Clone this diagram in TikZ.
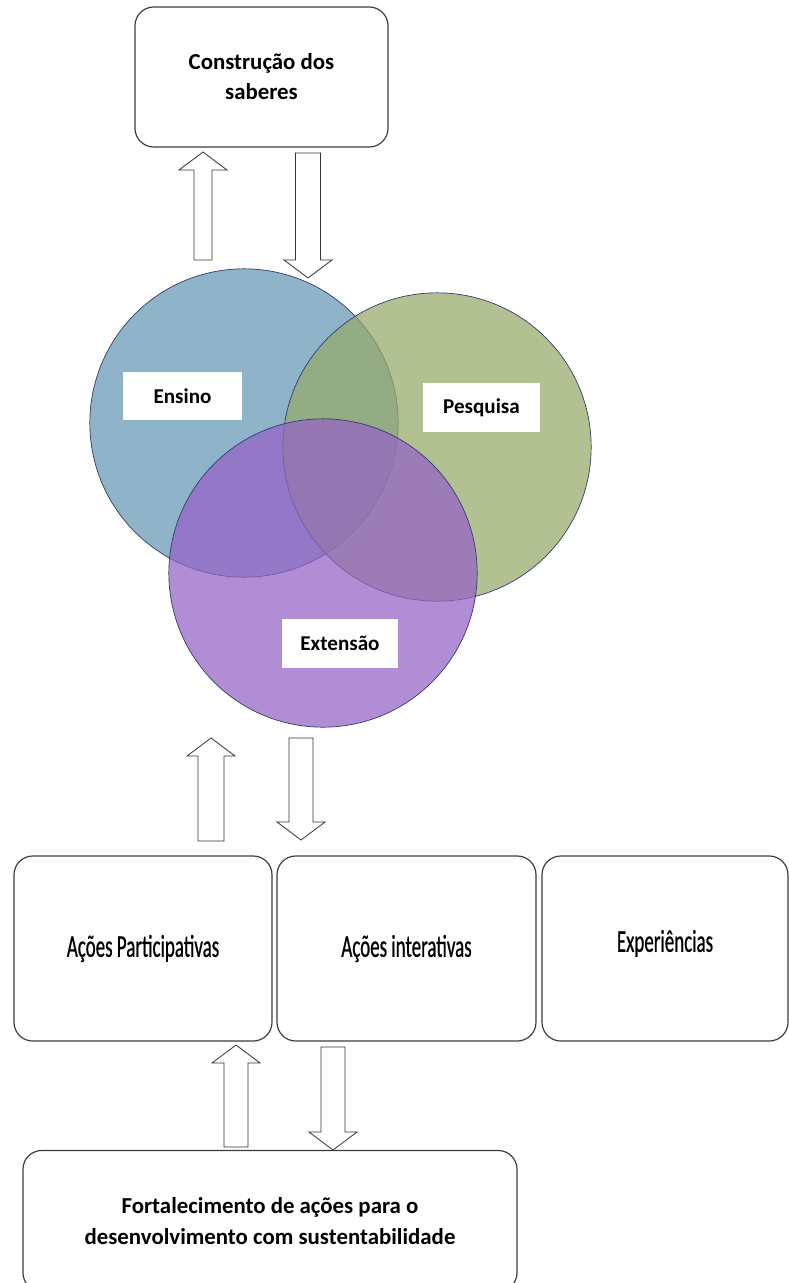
\documentclass[tikz,border=0pt]{standalone}
\usepackage{fontspec}
\setmainfont{Carlito}
\newfontfamily\narrowfont{Carlito}[FakeStretch=0.6, FakeBold=0.6]
\usetikzlibrary{positioning, calc}
\definecolor{ensinoblue}{RGB}{100,150,180}
\definecolor{pesqgreen}{RGB}{150,170,105}
\definecolor{extpurple}{RGB}{148,98,198}
\definecolor{ringline}{RGB}{50,60,110}
\definecolor{boxline}{RGB}{60,60,60}

% block arrow: x, tail y, tip y, shaft half width
\newcommand{\blockarrow}[4]{%
  \pgfmathsetmacro{\headbase}{#3 + ((#2 > #3) ? 18 : -18)}
  \draw[barrow] (#1-#4,#2) -- (#1-#4,\headbase) -- (#1-24,\headbase) -- (#1,#3)
    -- (#1+24,\headbase) -- (#1+#4,\headbase) -- (#1+#4,#2) -- cycle;}

\begin{document}
\begin{tikzpicture}[x=0.03cm, y=-0.03cm,
  sbox/.style={draw=boxline, line width=1pt, rounded corners=16pt, fill=white, align=center, inner sep=0pt},
  ring/.style={circle, draw=ringline, line width=0.6pt, minimum size=9.25cm, inner sep=0pt, fill opacity=0.72},
  tag/.style={fill=white, minimum height=1.46cm, inner sep=0pt, font=\fontsize{18}{22}\selectfont\bfseries},
  barrow/.style={draw=black!80, line width=0.7pt, fill=white}
]
  \useasboundingbox[fill=white] (0,0) rectangle (789,1283);

  % top box
  \node[sbox, minimum width=7.59cm, minimum height=4.2cm, font=\fontsize{19.5}{25.5}\selectfont\bfseries] (saberes) at (261.5,77) {Construção dos\\saberes};

  % circles
  \node[ring, fill=ensinoblue] (ensino) at (244,423) {};
  \node[ring, fill=pesqgreen] (pesquisa) at (437,447) {};
  \node[ring, fill=extpurple] (extensao) at (323,573) {};

  \node[tag, minimum width=3.57cm] (ensinotag) at (182.5,396) {Ensino};
  \node[tag, minimum width=3.51cm] (pesqtag) at (481.5,407.5) {Pesquisa};
  \node[tag, minimum width=3.48cm] (exttag) at (340,643.5) {Extensão};

  % action boxes
  \node[sbox, minimum width=7.74cm, minimum height=5.55cm, font=\fontsize{27}{30}\selectfont\narrowfont] (particip) at (143,948.5) {Ações Participativas};
  \node[sbox, minimum width=7.77cm, minimum height=5.55cm, font=\fontsize{27}{30}\selectfont\narrowfont] (interat) at (406.5,948.5) {Ações interativas};
  \node[sbox, minimum width=7.38cm, minimum height=5.55cm, font=\fontsize{27}{30}\selectfont\narrowfont] (experien) at (665,948.5) {\raisebox{13pt}{Experiências}};

  % bottom box
  \node[sbox, minimum width=14.82cm, minimum height=4.23cm, font=\fontsize{19.5}{27}\selectfont\bfseries] (fortalec) at (270,1221) {Fortalecimento de ações para o\\desenvolvimento com sustentabilidade};

  % arrows
  \blockarrow{203}{260}{152}{9}
  \blockarrow{308}{153}{278}{12.5}
  \blockarrow{211}{841}{738}{13}
  \blockarrow{301}{738}{840}{12}
  \blockarrow{236}{1147}{1045}{12}
  \blockarrow{333}{1047}{1150}{12}
\end{tikzpicture}
\end{document}
